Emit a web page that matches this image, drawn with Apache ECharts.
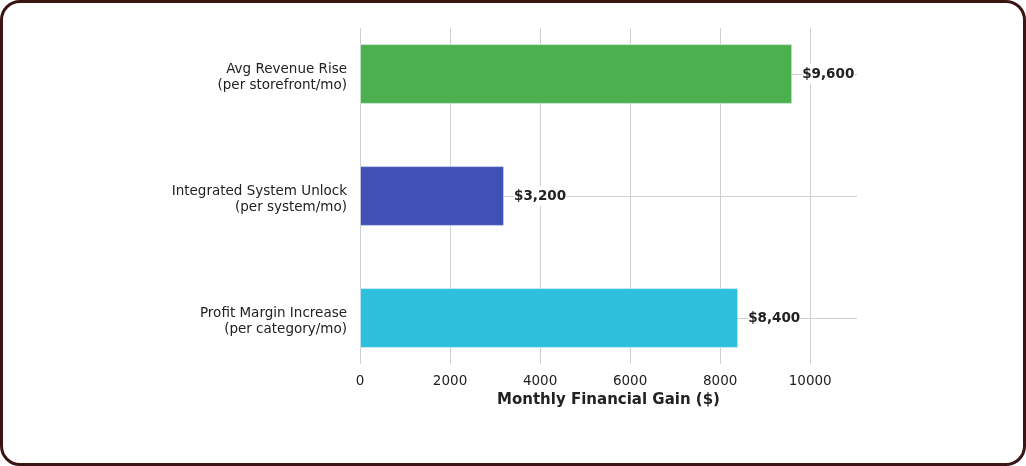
<!DOCTYPE html>
<html>
<head>
<meta charset="utf-8">
<script src="https://cdn.jsdelivr.net/npm/echarts@6/dist/echarts.min.js"></script>
<style>
    html, body { margin: 0; padding: 0; background: #fff; }
    #frame {
        width: 1026px; height: 466px; box-sizing: border-box;
        border: 3px solid #3b1414; border-radius: 20px; background: #fff;
        position: relative; overflow: hidden;
    }
    #main { position: absolute; left: -3px; top: -3px; width: 1026px; height: 466px; }
</style>
</head>
<body>
<div id="frame"><div id="main"></div></div>
<script type="text/javascript">
    // 数据
    var categories = ['Avg Revenue Rise\n(per storefront/mo)', 'Integrated System Unlock\n(per system/mo)', 'Profit Margin Increase\n(per category/mo)'];
    var values = [9600, 3200, 8400];
    var barColors = ['#4caf50', '#3f51b5', '#2dbfdb'];
    var xMax = 11040;

    var font = 'DejaVu Sans';
    var gridColor = '#d0d0d0';

    var myChart = echarts.init(document.getElementById('main'));
    var option = {
        animation: false,
        grid: [
            // bars + category labels
            {left: 360, right: 169, top: 13, bottom: 87},
            // value axis, vertical gridlines
            {left: 360, right: 169, top: 28, bottom: 102}
        ],
        xAxis: [
            {gridIndex: 0, type: 'value', min: 0, max: xMax, show: false},
            {
                gridIndex: 1, type: 'value', min: 0, max: xMax, interval: 2000,
                name: 'Monthly Financial Gain ($)', nameLocation: 'middle', nameGap: 28,
                nameTextStyle: {fontFamily: font, fontSize: 15, fontWeight: 'bold', color: '#222'},
                axisLine: {show: false},
                axisTick: {show: false},
                axisLabel: {
                    fontFamily: font, fontSize: 13.5, color: '#222', margin: 10, showMaxLabel: false,
                    formatter: function (v) { return String(v); }
                },
                splitLine: {show: true, showMaxLine: false, lineStyle: {color: gridColor, width: 1}}
            }
        ],
        yAxis: [
            {
                gridIndex: 0, type: 'category', inverse: true, data: categories,
                axisLine: {show: false},
                axisTick: {show: false},
                axisLabel: {
                    fontFamily: font, fontSize: 13.5, color: '#222', margin: 13, align: 'right',
                    // 顶部留一点空，让两行文字整体下移
                    formatter: function (v) {
                        return '{s| }\n' + v.split('\n').map(function (l) {
                            return '{a|' + l + '}';
                        }).join('\n');
                    },
                    rich: {
                        s: {fontSize: 1, lineHeight: 7},
                        a: {fontFamily: font, fontSize: 13.5, color: '#222', lineHeight: 16}
                    }
                },
                splitLine: {show: true, alignWithLabel: true, lineStyle: {color: gridColor, width: 1}}
            },
            {gridIndex: 1, type: 'value', show: false}
        ],
        series: [{
            type: 'bar',
            xAxisIndex: 0,
            yAxisIndex: 0,
            barWidth: '49%',
            data: values.map(function (v, i) {
                return {value: v, itemStyle: {color: barColors[i]}};
            }),
            itemStyle: {borderColor: 'rgba(255,255,255,0.45)', borderWidth: 1},
            label: {
                show: true, position: 'right', distance: 10,
                fontFamily: font, fontSize: 13.5, fontWeight: 'bold', color: '#222',
                backgroundColor: '#fff', padding: [3, 0],
                formatter: function (p) {
                    return '$' + p.value.toLocaleString('en-US');
                }
            }
        }]
    };
    myChart.setOption(option);
</script>
</body>
</html>
